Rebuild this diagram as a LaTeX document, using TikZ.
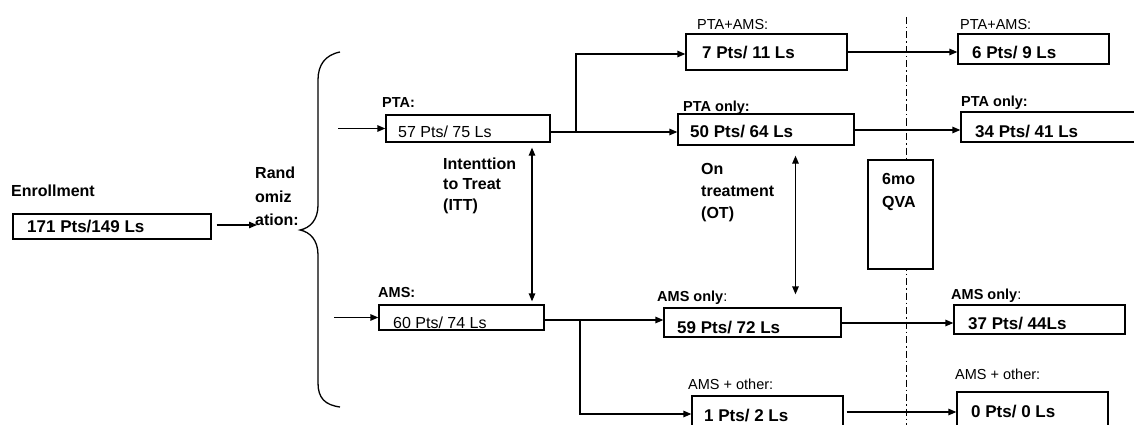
\documentclass[tikz,border=0pt]{standalone}
\usepackage{fontspec}
\setmainfont{Liberation Sans}
\usetikzlibrary{arrows.meta}
\begin{document}
\begin{tikzpicture}[x=1pt,y=-1pt,
  bx/.style={draw, line width=1.3pt, fill=white, inner sep=0pt},
  conn/.style={line width=1.3pt},
  arr/.style={conn, -{Triangle[length=8pt,width=6.5pt]}},
  darr/.style={conn, {Triangle[length=8pt,width=6.5pt]}-{Triangle[length=8pt,width=6.5pt]}},
  numb/.style={font=\fontsize{17}{20}\selectfont\bfseries, anchor=base west, inner sep=0pt},
  numr/.style={font=\fontsize{16}{19}\selectfont, anchor=base west, inner sep=0pt},
  labb/.style={font=\fontsize{14.5}{17}\selectfont\bfseries, anchor=base west, inner sep=0pt},
  labr/.style={font=\fontsize{14.5}{17}\selectfont, anchor=base west, inner sep=0pt},
  txtb/.style={font=\fontsize{16}{19}\selectfont\bfseries, anchor=base west, inner sep=0pt},
  dashdot/.style={line width=1pt, dash pattern=on 7pt off 3pt on 1.5pt off 3pt}
]
\useasboundingbox (0,0) rectangle (1134,425);
\fill[white] (0,0) rectangle (1134,425);

% dash-dot timeline
\coordinate (dl1) at (906,17);
\coordinate (dl2) at (906,425);
\draw[dashdot] (dl1) -- (dl2);

% boxes
\node[bx, minimum width=198pt, minimum height=25pt] (enr) at (112,226.5) {};
\node[bx, minimum width=164pt, minimum height=27pt] (pta) at (468,128.5) {};
\node[bx, minimum width=165pt, minimum height=25pt] (ams) at (461.5,317.5) {};
\node[bx, minimum width=161pt, minimum height=36pt] (pa1) at (766.5,52) {};
\node[bx, minimum width=176pt, minimum height=31pt] (po1) at (766,129.5) {};
\node[bx, minimum width=177pt, minimum height=29pt] (ao1) at (752.5,322.5) {};
\node[bx, minimum width=151pt, minimum height=36pt] (ot1) at (767.5,414) {};
\node[bx, minimum width=65pt, minimum height=109pt] (qva) at (900.5,214.5) {};
\node[bx, minimum width=151pt, minimum height=30pt] (pa2) at (1033.5,49) {};
\node[bx, minimum width=176pt, minimum height=30pt] (po2) at (1049,127) {};
\node[bx, minimum width=171pt, minimum height=29pt] (ao2) at (1039.5,319.5) {};
\node[bx, minimum width=151pt, minimum height=40pt] (ot2) at (1032.5,412) {};

% texts
\node[txtb] (tenr) at (11,196.8) {Enrollment};
\node[numb] (nenr) at (27,232) {171 Pts/149 Ls};
\node[txtb] (rz1) at (255,178.7) {Rand};
\node[txtb] (rz2) at (255,202.7) {omiz};
\node[txtb] (rz3) at (255,225.7) {ation:};

\node[labb] (lpta) at (382,107.2) {PTA:};
\node[numr] (npta) at (398,137.7) {57 Pts/ 75 Ls};
\node[labb] (lams) at (378,297.2) {AMS:};
\node[numr] (nams) at (393,328.7) {60 Pts/ 74 Ls};

\node[txtb] (itt1) at (443,169.7) {Intenttion};
\node[txtb] (itt2) at (443,189.7) {to Treat};
\node[txtb] (itt3) at (443,210.7) {(ITT)};

\node[labr] (lpa1) at (697,29.2) {PTA+AMS:};
\node[numb] (npa1) at (702,59) {7 Pts/ 11 Ls};
\node[labb] (lpo1) at (683,111) {PTA only:};
\node[numb] (npo1) at (690,138) {50 Pts/ 64 Ls};

\node[txtb] (ot1t) at (701,174.7) {On};
\node[txtb] (ot2t) at (701,196.7) {treatment};
\node[txtb] (ot3t) at (701,218.7) {(OT)};

\node[labb] (lao1) at (657,301.2) {AMS only\mdseries:};
\node[numb] (nao1) at (677,333) {59 Pts/ 72 Ls};
\node[labr] (lot1) at (688,389.2) {AMS + other:};
\node[numb] (not1) at (704,421) {1 Pts/ 2 Ls};

\node[txtb] (q1) at (882,184.7) {6mo};
\node[txtb] (q2) at (882,207.7) {QVA};

\node[labr] (lpa2) at (960,29.2) {PTA+AMS:};
\node[numb] (npa2) at (972,59) {6 Pts/ 9 Ls};
\node[labb] (lpo2) at (961,106.2) {PTA only:};
\node[numb] (npo2) at (975,137) {34 Pts/ 41 Ls};
\node[labb] (lao2) at (951,299.2) {AMS only\mdseries:};
\node[numb] (nao2) at (968,329) {37 Pts/ 44Ls};
\node[labr] (lot2) at (955,379.2) {AMS + other:};
\node[numb] (not2) at (971,417) {0 Pts/ 0 Ls};

% brace
\draw[conn] (340,52) .. controls (325,55) and (318,65) .. (318,80)
  -- (318,205) .. controls (318,220) and (310,228) .. (300,230)
  .. controls (310,232) and (318,240) .. (318,255)
  -- (318,383) .. controls (318,398) and (325,405) .. (340,407);

% connectors
\coordinate (rtip) at (257,225);
\draw[arr] ([xshift=5pt,yshift=1.5pt]enr.east) -- (rtip);
\coordinate (ptain) at (338,128.5);
\draw[arr] (ptain) -- (pta.west);
\coordinate (amsin) at (334,317.5);
\draw[arr] (amsin) -- (ams.west);

\draw[arr] ([yshift=-3.5pt]pta.east) -- ([yshift=-2.5pt]po1.west);
\coordinate (b1) at (576,132);
\draw[arr] (b1) |- ([yshift=-2pt]pa1.west);
\draw[arr] ([yshift=-0.5pt]po1.east) -- ([yshift=-3pt]po2.west);
\draw[arr] (pa1.east) -- ([yshift=-3pt]pa2.west);

\draw[arr] ([yshift=-2.5pt]ams.east) -- ([yshift=2.5pt]ao1.west);
\coordinate (b2) at (580,320);
\draw[arr] (b2) |- (ot1.west);
\draw[arr] ([yshift=-0.5pt]ao1.east) -- ([yshift=-3.5pt]ao2.west);
\draw[arr] ([xshift=3pt,yshift=2pt]ot1.east) -- (ot2.west);

\draw[darr] ([xshift=64pt,yshift=-5pt]pta.south) -- ([xshift=70.5pt,yshift=3pt]ams.north);
\draw[darr] ([xshift=29.5pt,yshift=-10pt]po1.south) -- ([xshift=43pt,yshift=13pt]ao1.north);
\end{tikzpicture}
\end{document}
